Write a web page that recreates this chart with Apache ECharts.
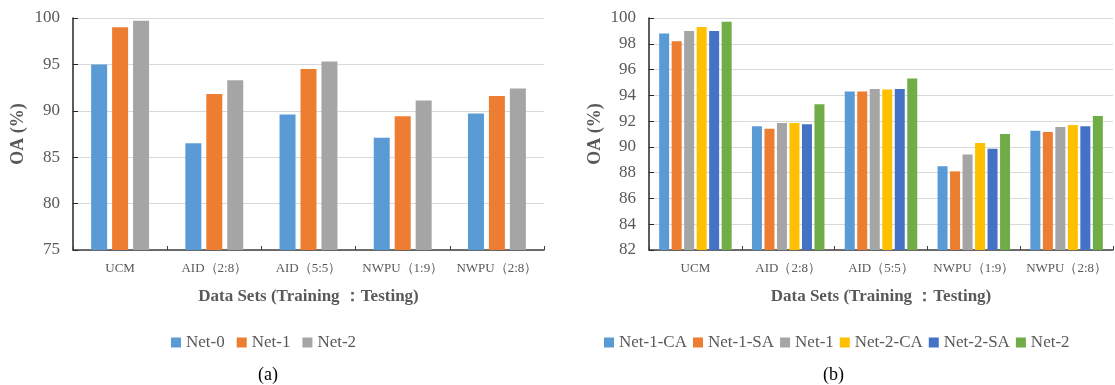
<!DOCTYPE html>
<html>
<head>
<meta charset="utf-8">
<script src="https://cdn.jsdelivr.net/npm/echarts@6/dist/echarts.min.js"></script>
<style>
html,body{margin:0;padding:0;background:#fff;}
#c{width:1115px;height:385px;}
</style>
</head>
<body>
<div id="c"></div>
<script>
const categories = ['UCM', 'AID（2:8）', 'AID（5:5）', 'NWPU（1:9）', 'NWPU（2:8）'];
// Chart (a)
const seriesNamesA = ['Net-0', 'Net-1', 'Net-2'];
const net0A = [95.0, 86.5, 89.6, 87.1, 89.7];
const net1A = [99.0, 91.8, 94.5, 89.4, 91.6];
const net2A = [99.7, 93.3, 95.3, 91.1, 92.4];
const yTicksA = {min: 75, max: 100, interval: 5};
// Chart (b)
const seriesNamesB = ['Net-1-CA', 'Net-1-SA', 'Net-1', 'Net-2-CA', 'Net-2-SA', 'Net-2'];
const net1CA = [98.8, 91.6, 94.3, 88.5, 91.25];
const net1SA = [98.2, 91.4, 94.3, 88.1, 91.15];
const net1B  = [99.0, 91.85, 94.5, 89.4, 91.55];
const net2CA = [99.3, 91.85, 94.45, 90.3, 91.7];
const net2SA = [99.0, 91.75, 94.5, 89.85, 91.6];
const net2B  = [99.7, 93.3, 95.3, 91.0, 92.4];
const yTicksB = {min: 82, max: 100, interval: 2};

const yTitle = 'OA (%)';
const xTitle = 'Data Sets (Training ：Testing)';

const colorsA = ['#5B9BD5', '#ED7D31', '#A5A5A5'];
const colorsB = ['#5B9BD5', '#ED7D31', '#A5A5A5', '#FFC000', '#4472C4', '#70AD47'];

const FONT = 'Liberation Serif';
const TXT = '#595959';

function xAxisCfg(gridIndex) {
  return {
    type: 'category', gridIndex, data: categories,
    axisLine: {lineStyle: {color: '#404040', width: 1.5}},
    axisTick: {show: true, inside: true, length: 4, lineStyle: {color: '#404040'}},
    axisLabel: {color: TXT, fontFamily: FONT, fontSize: 13, margin: 12, interval: 0},
    name: xTitle, nameLocation: 'middle', nameGap: 38,
    nameTextStyle: {color: TXT, fontFamily: FONT, fontSize: 17, fontWeight: 'bold'}
  };
}
function yAxisCfg(gridIndex, t, gap) {
  return {
    type: 'value', gridIndex, min: t.min, max: t.max, interval: t.interval,
    axisLine: {show: true, lineStyle: {color: '#262626', width: 1.5}},
    axisTick: {show: true, inside: true, length: 5, lineStyle: {color: '#262626'}},
    axisLabel: {color: TXT, fontFamily: FONT, fontSize: 17, margin: 13},
    splitLine: {lineStyle: {color: '#D9D9D9', width: 1}},
    name: yTitle, nameLocation: 'middle', nameGap: gap, nameRotate: 90,
    nameTextStyle: {color: TXT, fontFamily: FONT, fontSize: 18, fontWeight: 'bold'}
  };
}

const dataA = [net0A, net1A, net2A];
const dataB = [net1CA, net1SA, net1B, net2CA, net2SA, net2B];

const series = [];
seriesNamesA.forEach((n, i) => series.push({
  type: 'bar', name: n, xAxisIndex: 0, yAxisIndex: 0, data: dataA[i],
  barWidth: 16, barGap: '31%', itemStyle: {color: colorsA[i]}, animation: false
}));
seriesNamesB.forEach((n, i) => series.push({
  type: 'bar', name: n + ' ', xAxisIndex: 1, yAxisIndex: 1, data: dataB[i],
  barWidth: 10, barGap: '25%', itemStyle: {color: colorsB[i]}, animation: false
}));

const legendText = {color: TXT, fontFamily: FONT, fontSize: 17};
const option = {
  animation: false,
  textStyle: {fontFamily: FONT},
  grid: [
    {left: 73, top: 18, width: 471, height: 232},
    {left: 649, top: 18, width: 464, height: 232}
  ],
  xAxis: [xAxisCfg(0), xAxisCfg(1)],
  yAxis: [yAxisCfg(0, yTicksA, 46), yAxisCfg(1, yTicksB, 45)],
  legend: [
    {data: seriesNamesA, left: 166, top: 329, itemWidth: 10, itemHeight: 10, itemGap: 12,
     icon: 'rect', textStyle: legendText},
    {data: seriesNamesB.map(n => n + ' '), left: 599, top: 329, itemWidth: 10, itemHeight: 10, itemGap: 6,
     icon: 'rect', textStyle: legendText, formatter: n => n.trim()}
  ],
  graphic: [
    {type: 'text', left: 258, top: 366, style: {text: '(a)', fill: '#000', fontFamily: FONT, fontSize: 18}},
    {type: 'text', left: 823, top: 366, style: {text: '(b)', fill: '#000', fontFamily: FONT, fontSize: 18}}
  ],
  series
};
const chart = echarts.init(document.getElementById('c'));
chart.setOption(option);
</script>
</body>
</html>
